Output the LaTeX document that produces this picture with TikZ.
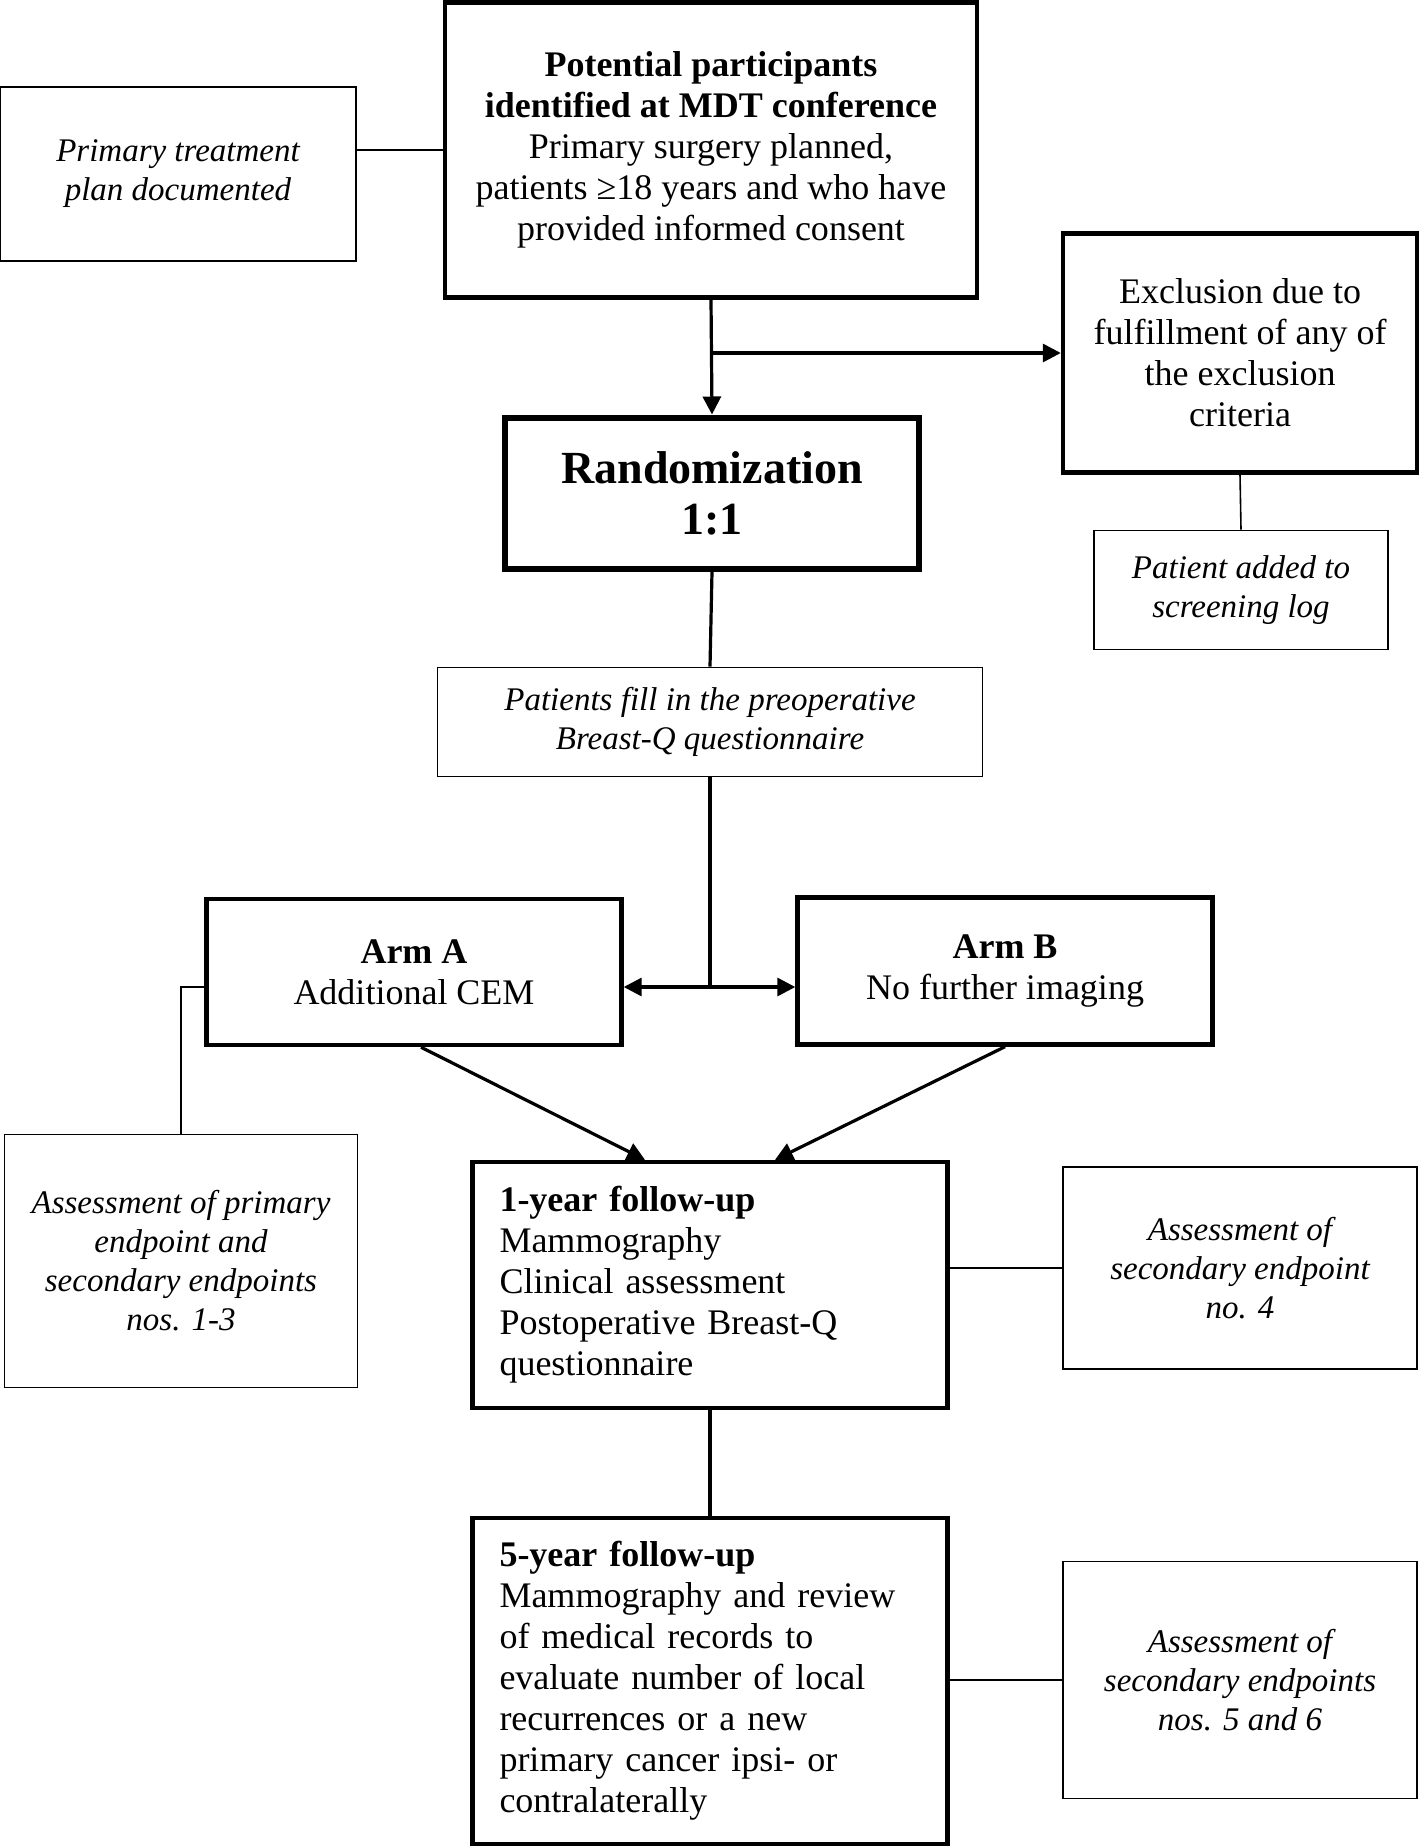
\documentclass[tikz,border=0pt]{standalone}
\usepackage{fontspec}
\setmainfont{Liberation Serif}
\usetikzlibrary{calc,arrows.meta}

\begin{document}
\begin{tikzpicture}[x=0.5pt,y=-0.5pt,
		mainbox/.style={draw, black, line width=2.2pt, align=center, inner sep=0pt, font=\fontsize{18}{20.5}\selectfont},
		randbox/.style={mainbox, line width=3pt, font=\fontsize{23}{25.5}\selectfont\bfseries},
		fubox/.style={mainbox, align=left, inner xsep=13.5pt, text width=210.5pt},
		notebox/.style={draw, black, line width=0.8pt, align=center, inner sep=0pt, font=\fontsize{16.5}{19.5}\selectfont\itshape},
		link/.style={black, line width=0.8pt},
		trunk/.style={black, line width=1.6pt},
		flow/.style={trunk, -{Triangle[length=9pt,width=9pt]}},
		twoway/.style={trunk, {Triangle[length=9pt,width=9pt]}-{Triangle[length=9pt,width=9pt]}}]
		\useasboundingbox (0,0) rectangle (1421,1846);
		\node[notebox, minimum width=178pt, minimum height=87pt] (treat) at (178,174) {Primary treatment\\plan documented};
		\node[mainbox, minimum width=266pt, minimum height=147.5pt] (pot) at (711,150) {\textbf{Potential participants}\\\textbf{identified at MDT conference}\\Primary surgery planned,\\patients ≥18 years and who have\\provided informed consent};
		\node[mainbox, minimum width=177pt, minimum height=119.5pt] (excl) at (1240,353) {Exclusion due to\\fulfillment of any of\\the exclusion\\criteria};
		\node[randbox, minimum width=207pt, minimum height=75.5pt] (rand) at (712,493) {Randomization\\1:1};
		\node[notebox, minimum width=147pt, minimum height=59.5pt] (log) at (1241,590) {Patient added to\\screening log};
		\node[notebox, minimum width=272.5pt, minimum height=54.5pt] (fill) at (710,722) {Patients fill in the preoperative\\Breast-Q questionnaire};
		\node[mainbox, minimum width=207.5pt, minimum height=73pt] (armA) at (414,972) {\textbf{Arm A}\\Additional CEM};
		\node[mainbox, minimum width=207.5pt, minimum height=73.5pt] (armB) at (1005,971) {\textbf{Arm B}\\No further imaging};
		\node[notebox, minimum width=176.5pt, minimum height=126.5pt] (primass) at (181,1261) {Assessment of primary\\endpoint and\\secondary endpoints\\nos. 1-3};
		\node[fubox, minimum height=123pt] (fu1) at (710,1285) {\textbf{1-year follow-up}\\Mammography\\Clinical assessment\\Postoperative Breast-Q\\questionnaire};
		\node[notebox, minimum width=177pt, minimum height=101pt] (sec4) at (1240,1268) {Assessment of\\secondary endpoint\\no. 4};
		\node[fubox, minimum height=163pt] (fu5) at (710,1681) {\textbf{5-year follow-up}\\Mammography and review\\of medical records to\\evaluate number of local\\recurrences or a new\\primary cancer ipsi- or\\contralaterally};
		\node[notebox, minimum width=177pt, minimum height=118.5pt] (sec56) at (1240,1680) {Assessment of\\secondary endpoints\\nos. 5 and 6};
		\coordinate (branch) at (pot.south |- excl.west);
		\coordinate (split) at (710,987);
		\draw[link] (pot.west) -- (pot.west -| treat.east);
		\draw[flow] (pot.south) -- (rand.north);
		\draw[flow] (branch) -- (excl.west);
		\draw[link] (excl.south) -- (log.north);
		\draw[trunk] (rand.south) -- (fill.north);
		\draw[trunk] (fill.south) -- (split);
		\draw[twoway] (armA.east |- split) -- (armB.west |- split);
		\draw[link] (armA.west |- split) -| (primass.north);
		\draw[flow] ($(armA.south)+(7,0)$) -- ($(fu1.north)+(-65,0)$);
		\draw[flow] (armB.south) -- ($(fu1.north)+(65,0)$);
		\draw[link] (sec4.west) -- (sec4.west -| fu1.east);
		\draw[trunk] (fu1.south) -- (fu5.north);
		\draw[link] (sec56.west) -- (sec56.west -| fu5.east);
\end{tikzpicture}
\end{document}
